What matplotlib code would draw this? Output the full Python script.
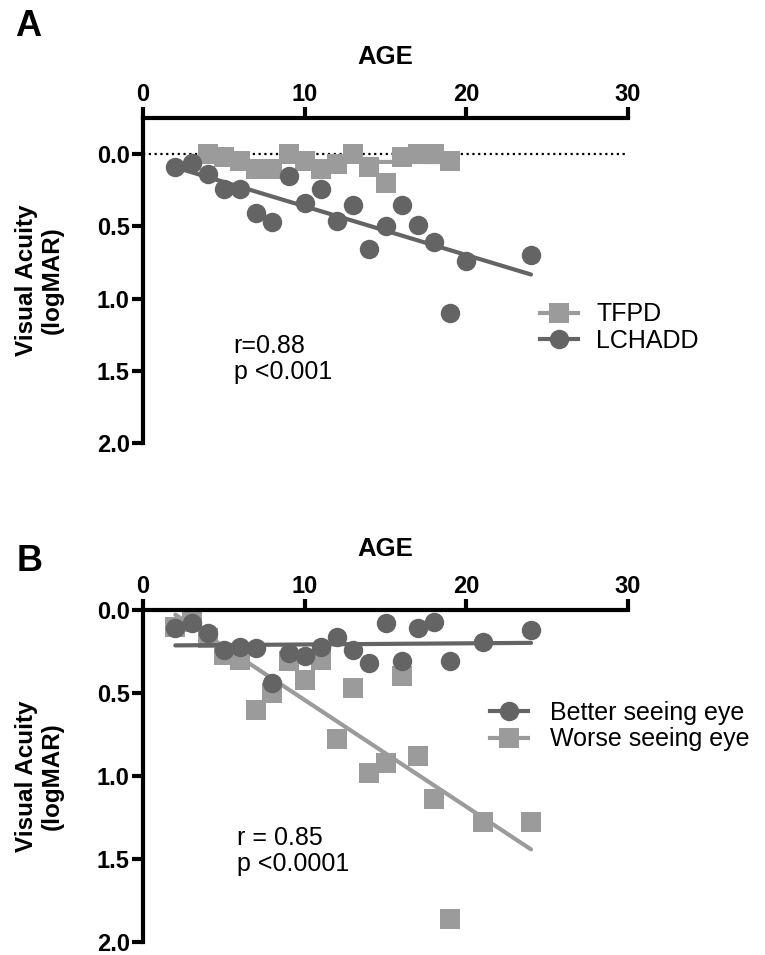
import numpy as np
import matplotlib
matplotlib.use('Agg')
import matplotlib.pyplot as plt

plt.rcParams['font.family'] = ['Liberation Sans', 'DejaVu Sans']

# Panel A: TFPD vs LCHADD
tfpd_age = [4, 5, 6, 7, 8, 9, 10, 11, 12, 13, 14, 15, 16, 17, 18, 19]
tfpd_va = [0.0, 0.02, 0.05, 0.10, 0.10, 0.0, 0.05, 0.10, 0.07, 0.0,
           0.09, 0.20, 0.02, 0.0, 0.0, 0.05]
lchadd_age = [2, 3, 4, 5, 6, 7, 8, 9, 10, 11, 12, 13, 14, 15, 16, 17,
              18, 19, 20, 24]
lchadd_va = [0.09, 0.06, 0.14, 0.24, 0.24, 0.41, 0.47, 0.15, 0.34, 0.24,
             0.46, 0.35, 0.66, 0.50, 0.35, 0.49, 0.61, 1.10, 0.74, 0.70]

# Panel B: better vs worse seeing eye (LCHADD)
eye_age = [2, 3, 4, 5, 6, 7, 8, 9, 10, 11, 12, 13, 14, 15, 16, 17, 18,
           19, 21, 24]
better_va = [0.11, 0.08, 0.14, 0.24, 0.22, 0.23, 0.44, 0.26, 0.28, 0.22,
             0.16, 0.24, 0.32, 0.08, 0.31, 0.11, 0.07, 0.31, 0.19, 0.12]
worse_va = [0.10, 0.07, 0.17, 0.27, 0.30, 0.60, 0.50, 0.31, 0.42, 0.30,
            0.78, 0.47, 0.98, 0.92, 0.40, 0.88, 1.14, 1.86, 1.28, 1.28]

y_ticks = [0.0, 0.5, 1.0, 1.5, 2.0]
x_ticks = [0, 10, 20, 30]

DARK = '#646464'
LIGHT = '#9b9b9b'
FS = 18
MS = 14


def fit_line(ax, x, y, color, z):
    k, d = np.polyfit(x, y, 1)
    xs = np.array([min(x), max(x)])
    ax.plot(xs, k * xs + d, color=color, lw=3, zorder=z,
            solid_capstyle='round')


def style_axes(ax, ytop):
    ax.set_xlim(0, 30)
    ax.set_ylim(2.0, ytop)
    ax.spines['right'].set_visible(False)
    ax.spines['bottom'].set_visible(False)
    for s in ('left', 'top'):
        ax.spines[s].set_linewidth(3)
    ax.xaxis.tick_top()
    ax.xaxis.set_label_position('top')
    ax.set_xticks(x_ticks)
    ax.set_yticks(y_ticks)
    ax.set_yticklabels(['%.1f' % v for v in y_ticks])
    ax.tick_params(width=3, length=8, labelsize=17)
    ax.tick_params(axis='x', pad=0.5)
    ax.tick_params(axis='y', pad=1.5)
    for lab in ax.get_xticklabels() + ax.get_yticklabels():
        lab.set_fontweight('bold')
    ax.set_xlabel('AGE', fontsize=18.5, fontweight='bold', labelpad=14)
    ax.set_ylabel('Visual Acuity\n(logMAR)', fontsize=17.5,
                  fontweight='bold', linespacing=1.15)
    ax.yaxis.set_label_coords(-0.163, 0.5)


def main():
    fig = plt.figure(figsize=(7.65, 9.55), dpi=100)
    axA = fig.add_axes([143 / 765, 1 - 443 / 955, 485 / 765, 325 / 955])
    axB = fig.add_axes([143 / 765, 1 - 942 / 955, 485 / 765, 332 / 955])

    # --- A
    axA.plot([0, 30], [0, 0], color='black', lw=1.6,
             ls=(0, (1, 1.6)), zorder=1, clip_on=False)
    axA.plot(tfpd_age, tfpd_va, 's', color=LIGHT, ms=MS, mew=0,
             zorder=2, clip_on=False)
    fit_line(axA, tfpd_age, tfpd_va, LIGHT, 2)
    axA.plot(lchadd_age, lchadd_va, 'o', color=DARK, ms=MS, mew=0,
             zorder=4, clip_on=False)
    fit_line(axA, lchadd_age, lchadd_va, DARK, 3)
    hA1, = axA.plot([], [], 's-', color=LIGHT, ms=MS, mew=0, lw=3)
    hA2, = axA.plot([], [], 'o-', color=DARK, ms=MS, mew=0, lw=3)
    axA.legend([hA1, hA2], ['TFPD', 'LCHADD'], frameon=False,
               fontsize=FS, loc='center left',
               bbox_to_anchor=(0.8186, 0.355), borderpad=0,
               borderaxespad=0, handlelength=1.5, handletextpad=0.75,
               labelspacing=0.1)
    axA.text(5.6, 1.42, 'r=0.88\np <0.001', fontsize=FS, va='center',
             linespacing=1.1)
    style_axes(axA, -0.25)

    # --- B
    axB.plot(eye_age, worse_va, 's', color=LIGHT, ms=MS, mew=0,
             zorder=2, clip_on=False)
    fit_line(axB, eye_age, worse_va, LIGHT, 3)
    axB.plot(eye_age, better_va, 'o', color=DARK, ms=MS, mew=0,
             zorder=4, clip_on=False)
    fit_line(axB, eye_age, better_va, DARK, 3)
    hB1, = axB.plot([], [], 'o-', color=DARK, ms=MS, mew=0, lw=3)
    hB2, = axB.plot([], [], 's-', color=LIGHT, ms=MS, mew=0, lw=3)
    axB.legend([hB1, hB2], ['Better seeing eye', 'Worse seeing eye'],
               frameon=False, fontsize=FS, loc='center left',
               bbox_to_anchor=(0.7155, 0.650), borderpad=0,
               borderaxespad=0, handlelength=1.5, handletextpad=0.9,
               labelspacing=0.1)
    axB.text(5.8, 1.45, 'r = 0.85\np <0.0001', fontsize=FS, va='center',
             linespacing=1.1)
    style_axes(axB, 0.0)

    fig.text(15 / 765, 1 - 36 / 955, 'A', fontsize=26, fontweight='bold')
    fig.text(17 / 765, 1 - 571 / 955, 'B', fontsize=26, fontweight='bold')

    fig.savefig('out.png', dpi=100)


if __name__ == '__main__':
    main()
